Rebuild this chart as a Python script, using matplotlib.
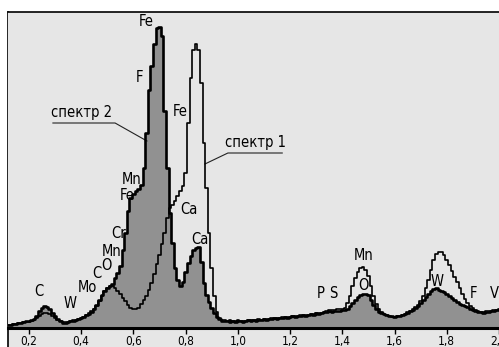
import numpy as np
import matplotlib.pyplot as plt
from matplotlib.patches import Rectangle
from matplotlib.lines import Line2D

plt.rcParams['font.family'] = ['DejaVu Sans']
plt.rcParams['font.stretch'] = 'condensed'

# energy grid, keV (bins of 0.01 from 0.12 to 2.01)
energy = np.round(np.arange(0.12, 2.015, 0.01), 2)

# spectrum 2 (grey, filled)
spectrum2 = [
    3, 3, 4, 4, 5, 5, 6, 7, 7, 8,
    9, 12, 17, 20, 22, 21, 19, 15, 12, 9,
    7, 5, 5, 6, 7, 7, 8, 9, 10, 11,
    13, 14, 16, 19, 23, 28, 33, 37, 40, 42,
    44, 50, 55, 62, 78, 95, 117, 130, 134, 137,
    139, 143, 160, 195, 238, 262, 284, 300, 301, 292,
    217, 160, 115, 85, 60, 48, 42, 46, 56, 65,
    72, 78, 80, 81, 66, 45, 33, 26, 20, 15,
    11, 9, 7, 7, 7, 6, 7, 6, 7, 7,
    6, 7, 8, 7, 8, 7, 8, 8, 9, 8,
    9, 9, 10, 9, 10, 10, 11, 10, 11, 12,
    11, 12, 12, 13, 12, 13, 14, 13, 15, 14,
    15, 16, 16, 17, 16, 17, 17, 17, 18, 18,
    19, 22, 25, 28, 31, 33, 34, 34, 33, 28,
    23, 19, 16, 15, 14, 13, 12, 12, 11, 12,
    12, 13, 14, 15, 17, 18, 20, 22, 25, 28,
    31, 34, 37, 39, 40, 38, 37, 36, 34, 32,
    30, 28, 26, 24, 23, 22, 21, 19, 18, 17,
    16, 16, 15, 16, 16, 17, 17, 18, 18, 18,
]

# spectrum 1 (outline only)
spectrum1 = [
    3, 3, 4, 4, 5, 5, 6, 6, 6, 7,
    8, 10, 12, 14, 15, 15, 14, 12, 10, 8,
    7, 6, 6, 6, 7, 8, 8, 9, 10, 11,
    13, 15, 17, 19, 22, 27, 32, 37, 40, 42,
    42, 40, 37, 34, 30, 27, 23, 20, 19, 19,
    20, 24, 28, 32, 38, 45, 54, 64, 73, 84,
    95, 110, 120, 123, 127, 132, 137, 142, 155, 205,
    250, 278, 284, 278, 245, 185, 140, 95, 60, 32,
    16, 10, 8, 8, 7, 8, 7, 7, 8, 7,
    7, 7, 8, 8, 8, 8, 9, 8, 9, 9,
    9, 10, 10, 10, 10, 11, 11, 11, 11, 12,
    12, 12, 13, 13, 13, 13, 14, 14, 15, 15,
    15, 16, 17, 18, 18, 18, 19, 19, 19, 20,
    25, 32, 42, 50, 56, 60, 61, 58, 52, 42,
    32, 24, 19, 16, 14, 13, 12, 11, 11, 12,
    12, 13, 14, 16, 17, 19, 21, 23, 27, 32,
    40, 48, 58, 68, 74, 76, 76, 73, 68, 63,
    57, 51, 46, 40, 34, 29, 25, 22, 20, 18,
    17, 16, 16, 17, 17, 17, 18, 18, 19, 19,
]

# element labels: (text, energy, height)
peak_labels = [
    ('Fe', 0.651, 306), ('F', 0.625, 250), ('Fe', 0.779, 217),
    ('Mn', 0.593, 149), ('Fe', 0.578, 132), ('Cr', 0.543, 94),
    ('Mn', 0.518, 77), ('O', 0.495, 63), ('C', 0.459, 55),
    ('Mo', 0.424, 40), ('W', 0.357, 25), ('C', 0.238, 37),
    ('Ca', 0.814, 119), ('Ca', 0.855, 89),
    ('Mn', 1.481, 72), ('O', 1.481, 42), ('P', 1.319, 34),
    ('S', 1.366, 34), ('W', 1.762, 47), ('F', 1.903, 34), ('V', 1.982, 34),
]

ticks = [0.2, 0.4, 0.6, 0.8, 1.0, 1.2, 1.4, 1.6, 1.8, 2.0]
tick_labels = ['0,2', '0,4', '0,6', '0,8', '1,0', '1,2', '1,4', '1,6', '1,8', '2,0']

bg = '#e6e6e6'
W, H = 499, 347

fig = plt.figure(figsize=(W / 100, H / 100), dpi=100, facecolor='white')
fig.patches.append(Rectangle((8 / W, 0), 1, 335 / H, transform=fig.transFigure,
                             facecolor=bg, edgecolor='none', zorder=-2))
fig.lines.append(Line2D([8 / W, 8 / W], [0, 335 / H], transform=fig.transFigure,
                        color='black', lw=1.2, zorder=-1))

ax = fig.add_axes([8 / W, 19 / H, 491 / W, 316 / H])
ax.set_facecolor(bg)

ax.fill_between(energy, spectrum2, step='mid', color='#919191', lw=0, zorder=2)
ax.step(energy, spectrum1, where='mid', color='black', lw=1.2, zorder=3)
ax.step(energy, spectrum2, where='mid', color='black', lw=1.9, zorder=4)

for txt, xv, yv in peak_labels:
    ax.text(xv, yv, txt, fontsize=10.5, ha='center', va='center', zorder=5)

# series labels with leader lines
ax.text(0.403, 216, 'спектр 2', fontsize=10.5, ha='center', va='center')
ax.plot([0.292, 0.530, 0.652], [205, 205, 187], color='#222222', lw=0.8)
ax.text(1.066, 186, 'спектр 1', fontsize=10.5, ha='center', va='center')
ax.plot([1.170, 0.962, 0.874], [175, 175, 164], color='#222222', lw=0.8)

ax.set_xlim(0.12, 2.0)
ax.set_ylim(0, 316)
ax.set_xticks(ticks)
ax.set_xticklabels(tick_labels, fontsize=8.5)
ax.set_yticks([])
ax.tick_params(axis='x', direction='out', length=4, width=1, pad=1)

ax.spines['right'].set_visible(False)
ax.spines['left'].set_visible(False)
ax.spines['top'].set_linewidth(1.2)
ax.spines['bottom'].set_linewidth(2.2)

fig.savefig('out.png', dpi=100, facecolor='white')
